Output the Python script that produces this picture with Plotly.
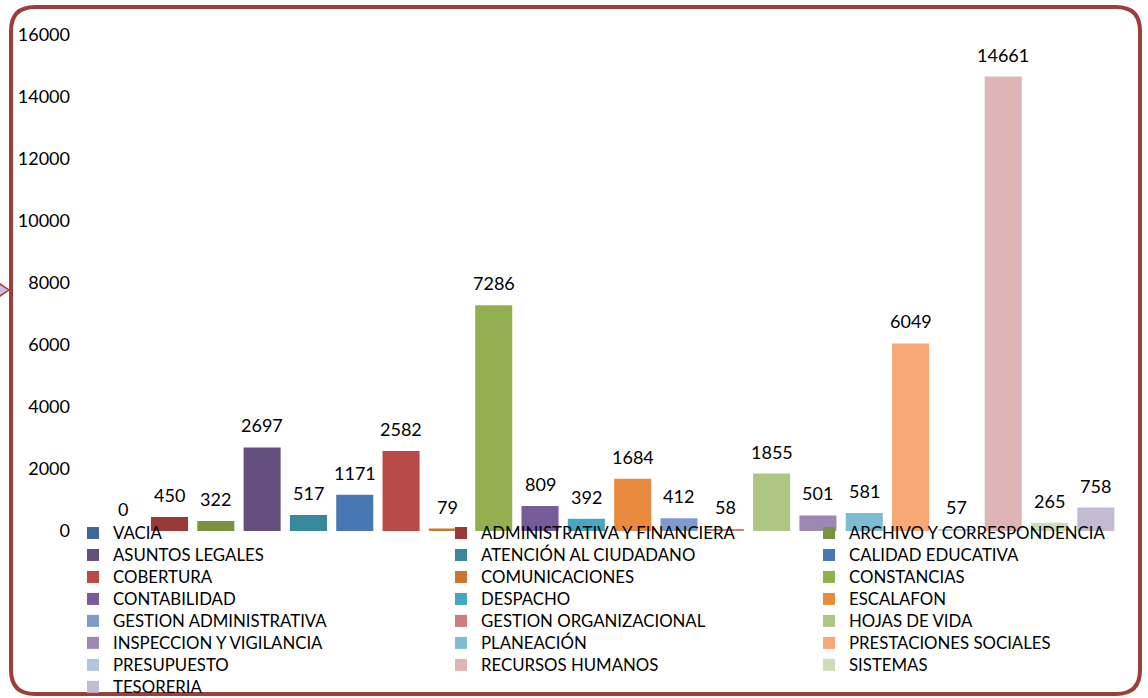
import plotly.graph_objects as go

categories = ["VACIA", "ADMINISTRATIVA Y FINANCIERA", "ARCHIVO Y CORRESPONDENCIA",
              "ASUNTOS LEGALES", "ATENCIÓN AL CIUDADANO", "CALIDAD EDUCATIVA",
              "COBERTURA", "COMUNICACIONES", "CONSTANCIAS", "CONTABILIDAD",
              "DESPACHO", "ESCALAFON", "GESTION ADMINISTRATIVA", "GESTION ORGANIZACIONAL",
              "HOJAS DE VIDA", "INSPECCION Y VIGILANCIA", "PLANEACIÓN",
              "PRESTACIONES SOCIALES", "PRESUPUESTO", "RECURSOS HUMANOS",
              "SISTEMAS", "TESORERIA"]
values = [0, 450, 322, 2697, 517, 1171, 2582, 79, 7286, 809, 392, 1684, 412, 58,
          1855, 501, 581, 6049, 57, 14661, 265, 758]
colors = ["#3C6797", "#9A3A38", "#7A9240", "#644E7E", "#38879A", "#4878B3",
          "#B94A48", "#C87733", "#92B050", "#775C9A", "#47A6C0", "#E98B3E",
          "#7E9BCB", "#CE7C7C", "#AEC684", "#9B88B4", "#7DBCD1", "#F7A874",
          "#B3C4E1", "#DFB4B4", "#CEDDB8", "#C4BAD2"]
y_ticks = [0, 2000, 4000, 6000, 8000, 10000, 12000, 14000, 16000]

W, H = 1148, 698
L, R, T, B = 5, 5, 35, 167
PW, PH = W - L - R, H - T - B
# bars occupy pixels 100..1119 of the figure
BAR_L, BAR_R = 100, 1119
CW = (BAR_R - BAR_L) / len(categories)
x_range = [-0.5 - (BAR_L - L) / CW, len(categories) - 0.5 + ((W - R) - BAR_R) / CW]

def px(x):
    return (x - L) / PW

def py(y):
    return (H - B - y) / PH

FONT = "Lato"

fig = go.Figure()
for cat, val, col in zip(categories, values, colors):
    fig.add_trace(go.Bar(x=[cat], y=[val],
                         name=f'<span style="font-size:16.8px">{cat}</span>',
                         marker=dict(color=col, line=dict(width=0))))

annotations = []
for cat, val in zip(categories, values):
    annotations.append(dict(x=cat, y=val, text=str(val), showarrow=False, yanchor="bottom",
                            yshift=9, font=dict(family=FONT, size=18, color="#000000")))

# rounded border
x0, x1, y0, y1, r = 11, 1140, 7, 694, 24
path = (f"M {px(x0+r)},{py(y0)} L {px(x1-r)},{py(y0)} Q {px(x1)},{py(y0)} {px(x1)},{py(y0+r)} "
        f"L {px(x1)},{py(y1-r)} Q {px(x1)},{py(y1)} {px(x1-r)},{py(y1)} "
        f"L {px(x0+r)},{py(y1)} Q {px(x0)},{py(y1)} {px(x0)},{py(y1-r)} "
        f"L {px(x0)},{py(y0+r)} Q {px(x0)},{py(y0)} {px(x0+r)},{py(y0)} Z")
arrow = f"M {px(-6)},{py(280)} L {px(9)},{py(290)} L {px(-6)},{py(300)} Z"

fig.update_layout(
    width=W, height=H,
    margin=dict(l=L, r=R, t=T, b=B, autoexpand=False),
    paper_bgcolor="white", plot_bgcolor="white",
    barmode="overlay", bargap=0.2,
    showlegend=True,
    legend=dict(orientation="h", x=px(73), xanchor="left", y=py(517), yanchor="top",
                entrywidth=323, entrywidthmode="pixels",
                font=dict(family=FONT, size=14.6, color="#000000"),
                bgcolor="rgba(0,0,0,0)", traceorder="normal"),
    xaxis=dict(showticklabels=False, showgrid=False, zeroline=False, showline=False,
               categoryorder="array", categoryarray=categories, range=x_range),
    yaxis=dict(range=[0, 16000], tickvals=y_ticks, ticktext=[str(v) for v in y_ticks],
               showgrid=False, zeroline=False, showline=False, ticklabelstandoff=-66,
               tickfont=dict(family=FONT, size=18, color="#000000")),
    annotations=annotations,
    shapes=[
        dict(type="path", path=arrow, xref="paper", yref="paper",
             fillcolor="#C9C0E0", line=dict(color="#A0403C", width=1.5), layer="below"),
        dict(type="path", path=path, xref="paper", yref="paper",
             line=dict(color="#9E3E3A", width=4), fillcolor="rgba(0,0,0,0)", layer="above"),
    ],
)

fig.write_html("out.html", config={"displayModeBar": False},
               post_script="document.body.style.margin='0';")
